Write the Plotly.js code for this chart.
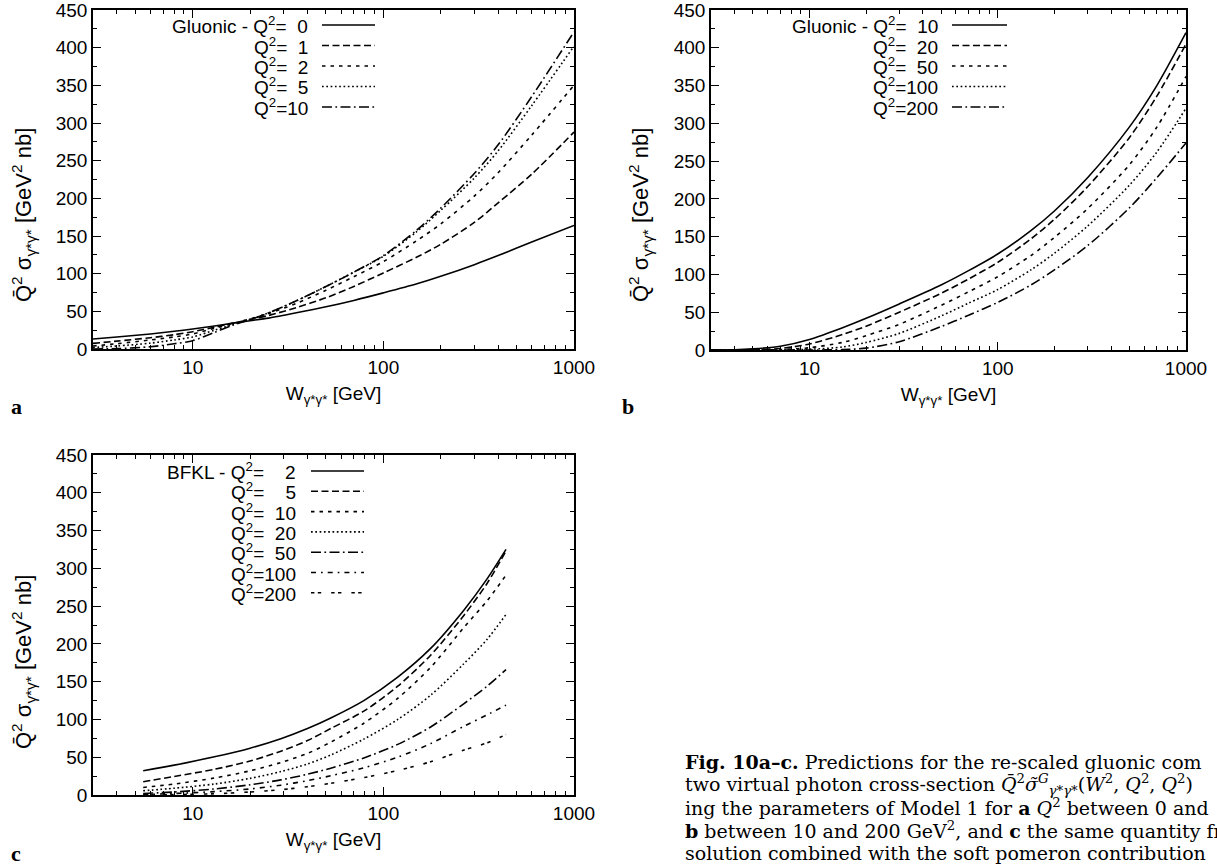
<!DOCTYPE html>
<html>
<head>
<meta charset="utf-8">
<script src="https://cdn.plot.ly/plotly-3.0.1.min.js"></script>
<style>html,body{margin:0;padding:0;background:#fff;}#chart{width:1217px;height:865px;}</style>
</head>
<body>
<div id="chart"></div>
<script>
// ---------- data ----------
// Panel a: Gluonic, Q^2 = 0,1,2,5,10
const W_a = [3, 4, 6, 8, 10, 13, 16, 20, 25, 35, 50, 70, 100, 150, 200, 300, 400, 600, 1000];
const a_q0  = [13.3, 16, 20, 23.5, 26.5, 30.5, 34, 37.5, 41, 48, 56, 64.5, 74.5, 86.5, 96.5, 112, 124, 142, 164];
const a_q1  = [7.5, 10.5, 15, 19, 23, 29, 34, 39, 44.5, 55, 68, 83, 101, 122, 139, 168, 194, 232, 288];
const a_q2  = [4, 7, 12, 16, 20, 27.5, 33.5, 40, 47, 60.5, 78, 96, 116, 144, 166, 203, 234, 284, 350];
const a_q5  = [2, 4, 7.8, 12, 16, 25, 32, 39.5, 48, 64, 83, 102, 123, 156, 184, 227, 263, 323, 402];
const a_q10 = [0, 0.5, 3, 7, 11, 22, 31, 39, 48, 64, 83, 102, 124, 158, 187, 233, 271, 335, 421];
const a_labels = ['Gluonic - Q<sup>2</sup>=\u00A0\u00A00', 'Q<sup>2</sup>=\u00A0\u00A01', 'Q<sup>2</sup>=\u00A0\u00A02', 'Q<sup>2</sup>=\u00A0\u00A05', 'Q<sup>2</sup>=10'];

// Panel b: Gluonic, Q^2 = 10,20,50,100,200
const W_b = [3, 4, 5, 7, 10, 15, 20, 30, 50, 70, 100, 150, 200, 300, 500, 700, 1000];
const b_q10  = [0, 0.3, 1.5, 5, 14, 29.5, 42, 61, 86, 105, 127, 158, 184, 228, 295, 350, 420];
const b_q20  = [0, 0, 0.5, 2, 8, 20.5, 31.5, 50, 75, 94, 116, 147, 173, 216, 281, 336, 405];
const b_q50  = [0, 0, 0, 0.5, 3, 10, 19, 34, 59, 77, 97, 125, 149, 187, 245, 295, 362];
const b_q100 = [0, 0, 0, 0, 1, 4, 10, 22, 45, 62, 80, 106, 128, 164, 218, 262, 320];
const b_q200 = [0, 0, 0, 0, 0, 0.5, 2.5, 11, 31, 46, 63, 86, 106, 138, 188, 228, 274];
const b_labels = ['Gluonic - Q<sup>2</sup>=\u00A0\u00A010', 'Q<sup>2</sup>=\u00A0\u00A020', 'Q<sup>2</sup>=\u00A0\u00A050', 'Q<sup>2</sup>=100', 'Q<sup>2</sup>=200'];

// Panel c: BFKL, Q^2 = 2,5,10,20,50,100,200
const W_c = [5.5, 8, 13, 20, 29, 40, 53, 79, 119, 177, 265, 350, 440];
const c_q2   = [32, 39.5, 50.5, 62, 74.5, 88, 102, 125, 156, 194, 245, 286, 325];
const c_q5   = [17.6, 24.5, 34, 45, 58, 72, 88, 111, 144, 185, 238, 280, 323];
const c_q10  = [10, 14.5, 22.5, 32, 43, 55, 70, 95, 128, 169, 222, 257, 291];
const c_q20  = [5.6, 9, 14.5, 22, 31, 41, 53, 74, 100, 132, 174, 206, 239];
const c_q50  = [2, 4, 8, 13.5, 20, 27.5, 35.5, 49, 67, 90, 121, 144, 166];
const c_q100 = [0.5, 2, 4.5, 8, 13, 19, 25.5, 36, 50, 68, 91, 106, 119];
const c_q200 = [0, 0.5, 1.7, 4, 7, 11, 15.5, 23, 32.5, 44, 59.6, 69, 80];
const c_labels = ['BFKL - Q<sup>2</sup>=\u00A0\u00A0\u00A0\u00A02', 'Q<sup>2</sup>=\u00A0\u00A0\u00A0\u00A05', 'Q<sup>2</sup>=\u00A0\u00A010', 'Q<sup>2</sup>=\u00A0\u00A020', 'Q<sup>2</sup>=\u00A0\u00A050', 'Q<sup>2</sup>=100', 'Q<sup>2</sup>=200'];

// axis ticks and titles
const xTickVals = [10, 100, 1000];
const xTickText = ['10', '100', '1000'];
const yTickVals = [0, 50, 100, 150, 200, 250, 300, 350, 400, 450];
const xTitle = 'W<sub>\u03B3*\u03B3*</sub> [GeV]';
const yTitle = 'Q\u0304<sup>2</sup> \u03C3<sub>\u03B3*\u03B3*</sub> [GeV<sup>2</sup> nb]';

const captionLines = [
  '<b>Fig. 10a\u2013c.</b> Predictions for the re-scaled gluonic com',
  'two virtual photon cross-section <i>Q\u0304</i><sup>2</sup><i>\u03C3\u0303</i><sup><i>G</i></sup><sub><i>\u03B3*\u03B3*</i></sub>(<i>W</i><sup>2</sup>, <i>Q</i><sup>2</sup>, <i>Q</i><sup>2</sup>)',
  'ing the parameters of Model 1 for <b>a</b> <i>Q</i><sup>2</sup> between 0 and',
  '<b>b</b> between 10 and 200 GeV<sup>2</sup>, and <b>c</b> the same quantity fr',
  'solution combined with the soft pomeron contribution'
];

// ---------- styling ----------
const FW = 1217, FH = 865;
const dashes = ['solid', '7px,3.5px', '3.5px,5px', '1.7px,2.6px', '10px,3.4px,1.7px,3.4px', '5px,5px,1.7px,5px', '3.4px,3.4px,3.4px,10px'];
const LW = 1.6;
const SANS = 'Liberation Sans, Arial, Helvetica, sans-serif';
const SERIF = 'DejaVu Serif, serif';

// pixel boxes of the three panels [left, right, top, bottom]
const boxes = {
  a: [93, 574, 10, 349],
  b: [711, 1186, 10, 350],
  c: [93, 574, 455, 795]
};
function xd(b) { return [b[0] / FW, b[1] / FW]; }
function yd(b) { return [1 - b[3] / FH, 1 - b[2] / FH]; }

const minorVals = [];
for (let d = 1; d <= 100; d *= 10) for (let k = 2; k <= 9; k++) minorVals.push(k * d);

function xAxis(b, anchor) {
  return {
    domain: xd(b), anchor: anchor, type: 'log', range: [Math.log10(3), 3],
    tickmode: 'array', tickvals: xTickVals, ticktext: xTickText,
    ticks: 'inside', ticklen: 8, tickwidth: 1.3, tickcolor: 'black',
    showline: true, linewidth: 1.6, linecolor: 'black', mirror: 'allticks',
    showgrid: false, zeroline: false, automargin: false, ticklabeloverflow: 'allow',
    minor: { tickmode: 'array', tickvals: minorVals, ticks: 'inside', ticklen: 4, tickwidth: 1.2, tickcolor: 'black', showgrid: false },
    tickfont: { family: SANS, size: 19, color: 'black' },
    title: { text: xTitle, standoff: 10, font: { family: SANS, size: 19, color: 'black' } }
  };
}
function yAxis(b, anchor) {
  return {
    domain: yd(b), anchor: anchor, range: [0, 450],
    tickmode: 'array', tickvals: yTickVals,
    ticks: 'inside', ticklen: 8, tickwidth: 1.3, tickcolor: 'black',
    showline: true, linewidth: 1.6, linecolor: 'black', mirror: 'allticks',
    showgrid: false, zeroline: false, automargin: false, ticklabeloverflow: 'allow',
    minor: { dtick: 25, ticks: 'inside', ticklen: 4, tickwidth: 1.2, tickcolor: 'black', showgrid: false },
    tickfont: { family: SANS, size: 19, color: 'black' }
  };
}

const traces = [];
function addSeries(xs, ysList, labels, xa, ya) {
  ysList.forEach((ys, i) => {
    traces.push({
      type: 'scatter', mode: 'lines', x: xs, y: ys, xaxis: xa, yaxis: ya,
      name: labels[i].replace(/<[^>]+>/g, ''),
      line: { color: 'black', width: LW, dash: dashes[i], shape: 'spline', smoothing: 0.8 },
      hoverinfo: 'x+y', showlegend: false
    });
  });
}
addSeries(W_a, [a_q0, a_q1, a_q2, a_q5, a_q10], a_labels, 'x', 'y');
addSeries(W_b, [b_q10, b_q20, b_q50, b_q100, b_q200], b_labels, 'x2', 'y2');
addSeries(W_c, [c_q2, c_q5, c_q10, c_q20, c_q50, c_q100, c_q200], c_labels, 'x3', 'y3');

const annotations = [];
const shapes = [];

// y-axis titles (gnuplot places them slightly below the panel centre)
[[23, 215], [640, 215], [23, 662]].forEach(p => {
  annotations.push({
    xref: 'paper', yref: 'paper', x: p[0] / FW, y: 1 - p[1] / FH, xanchor: 'center', yanchor: 'middle',
    text: yTitle, textangle: -90, showarrow: false, font: { family: SANS, size: 22, color: 'black' }
  });
});

// gnuplot-style key: text right-aligned, sample line to the right
function addKey(labels, textRight, lineL, lineR, rowTop, rowStep) {
  labels.forEach((lab, i) => {
    const yy = 1 - (rowTop + i * rowStep) / FH;
    annotations.push({
      xref: 'paper', yref: 'paper', x: textRight / FW, y: yy, xanchor: 'right', yanchor: 'middle',
      text: lab, showarrow: false, font: { family: SANS, size: 19, color: 'black' }
    });
    shapes.push({
      type: 'line', xref: 'paper', yref: 'paper', x0: lineL / FW, x1: lineR / FW, y0: yy, y1: yy,
      line: { color: 'black', width: LW, dash: dashes[i] }
    });
  });
}
addKey(a_labels, 310, 322, 375, 25, 20.5);
addKey(b_labels, 940, 952, 1007, 25, 20.5);
addKey(c_labels, 298, 311, 364, 471, 20.3);

// panel letters
[['a', 9, 407], ['b', 620, 407], ['c', 9, 853]].forEach(p => {
  annotations.push({
    xref: 'paper', yref: 'paper', x: p[1] / FW, y: 1 - p[2] / FH, xanchor: 'left', yanchor: 'middle',
    text: '<b>' + p[0] + '</b>', showarrow: false, font: { family: 'Liberation Serif, serif', size: 22, color: 'black' }
  });
});

// caption
captionLines.forEach((t, i) => {
  annotations.push({
    xref: 'paper', yref: 'paper', x: 683 / FW, y: 1 - (762 + i * 22.7) / FH, xanchor: 'left', yanchor: 'middle',
    text: t, showarrow: false, align: 'left', font: { family: SERIF, size: 19, color: 'black' }
  });
});

const layout = {
  width: FW, height: FH, autosize: false,
  margin: { l: 0, r: 0, t: 0, b: 0, pad: 0 },
  paper_bgcolor: 'white', plot_bgcolor: 'white',
  showlegend: false,
  font: { family: SANS, size: 19, color: 'black' },
  xaxis: xAxis(boxes.a, 'y'), yaxis: yAxis(boxes.a, 'x'),
  xaxis2: xAxis(boxes.b, 'y2'), yaxis2: yAxis(boxes.b, 'x2'),
  xaxis3: xAxis(boxes.c, 'y3'), yaxis3: yAxis(boxes.c, 'x3'),
  annotations: annotations,
  shapes: shapes
};

Plotly.newPlot('chart', traces, layout, { displayModeBar: false });
</script>
</body>
</html>
